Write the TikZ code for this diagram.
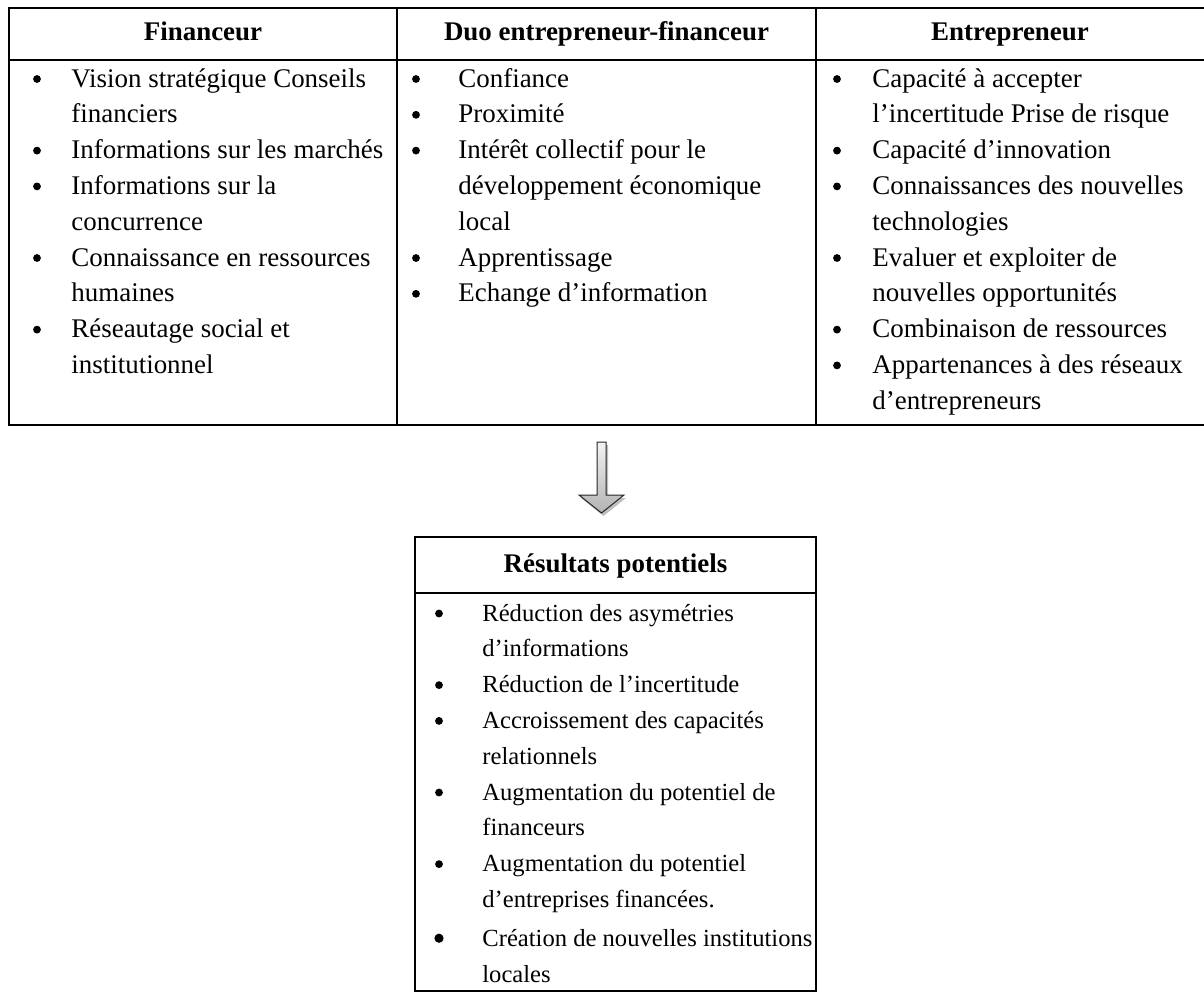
\documentclass[tikz,border=0pt]{standalone}
\usepackage{fontspec}
\setmainfont{Liberation Serif}
\begin{document}
\begin{tikzpicture}[x=0.5pt,y=-0.5pt,
  every node/.style={font=\fontsize{13.47}{17.9}\selectfont, inner sep=0pt},
  txt/.style={anchor=base west},
  bul/.style={circle, fill=black, draw=none, inner sep=0pt, minimum size=3.9pt},
  hd/.style={anchor=base, font=\fontsize{13.47}{17.9}\selectfont\bfseries},
  smalltxt/.style={anchor=base west, font=\fontsize{12.3}{16}\selectfont},
  frame/.style={line width=1.2pt, draw=black},
  blockarrow/.style={line width=0.5pt, draw=black!85, top color=gray!10, bottom color=gray!60},
  arrowshadow/.style={fill=black!25, draw=none}]
\useasboundingbox (0,0) rectangle (1204,993);

% ---------- top table (right border lies just outside the picture) ----------
\draw[frame] (9,8) rectangle (1207,425);
\draw[frame] (9,60) -- (1207,60);
\draw[frame] (397,8) -- (397,425);
\draw[frame] (816,8) -- (816,425);

\node[hd] (h1) at (203,40) {Financeur};
\node[hd] (h2) at (606.5,40) {Duo entrepreneur-financeur};
\node[hd] (h3) at (1010,40) {Entrepreneur};

% column 1
\node[bul] (a1b) at (37,79) {};
\node[txt] (a1) at (71,87) {Vision stratégique Conseils};
\node[txt] (a1c) at (71,122.8) {financiers};
\node[bul] (a2b) at (37,150.6) {};
\node[txt] (a2) at (71,158.6) {Informations sur les marchés};
\node[bul] (a3b) at (37,186.4) {};
\node[txt] (a3) at (71,194.4) {Informations sur la};
\node[txt] (a3c) at (71,230.2) {concurrence};
\node[bul] (a4b) at (37,258) {};
\node[txt] (a4) at (71,266) {Connaissance en ressources};
\node[txt] (a4c) at (71,301.8) {humaines};
\node[bul] (a5b) at (37,329.6) {};
\node[txt] (a5) at (71,337.6) {Réseautage social et};
\node[txt] (a5c) at (71,373.4) {institutionnel};

% column 2
\node[bul] (b1b) at (416,79) {};
\node[txt] (b1) at (458,87) {Confiance};
\node[bul] (b2b) at (416,114.8) {};
\node[txt] (b2) at (458,122.8) {Proximité};
\node[bul] (b3b) at (416,150.6) {};
\node[txt] (b3) at (458,158.6) {Intérêt collectif pour le};
\node[txt] (b3c) at (458,194.4) {développement économique};
\node[txt] (b3d) at (458,230.2) {local};
\node[bul] (b4b) at (416,258) {};
\node[txt] (b4) at (458,266) {Apprentissage};
\node[bul] (b5b) at (416,293.8) {};
\node[txt] (b5) at (458,301.8) {Echange d’information};

% column 3
\node[bul] (c1b) at (837,79) {};
\node[txt] (c1) at (872,87) {Capacité à accepter};
\node[txt] (c1c) at (872,122.8) {l’incertitude Prise de risque};
\node[bul] (c2b) at (837,150.6) {};
\node[txt] (c2) at (872,158.6) {Capacité d’innovation};
\node[bul] (c3b) at (837,186.4) {};
\node[txt] (c3) at (872,194.4) {Connaissances des nouvelles};
\node[txt] (c3c) at (872,230.2) {technologies};
\node[bul] (c4b) at (837,258) {};
\node[txt] (c4) at (872,266) {Evaluer et exploiter de};
\node[txt] (c4c) at (872,301.8) {nouvelles opportunités};
\node[bul] (c5b) at (837,329.6) {};
\node[txt] (c5) at (872,337.6) {Combinaison de ressources};
\node[bul] (c6b) at (837,365.4) {};
\node[txt] (c6) at (872,373.4) {Appartenances à des réseaux};
\node[txt] (c6c) at (872,409.2) {d’entrepreneurs};

% ---------- arrow ----------
\coordinate (tabS) at (601.5,442);
\coordinate (boxN) at (601.5,513);
\fill[arrowshadow] ([shift={(2,3)}]tabS) ++(-4.5,0) -- ++(9,0) -- ++(0,53) -- ++(18,0) -- ++(-22.5,18) -- ++(-22.5,-18) -- ++(18,0) -- cycle;
\path[blockarrow] (tabS) ++(-4.5,0) -- ++(9,0) -- ++(0,53) -- ++(18,0) -- (boxN) -- ++(-22.5,-18) -- ++(18,0) -- cycle;

% ---------- bottom box ----------
\draw[frame] (415,537) rectangle (816,991);
\draw[frame] (415,593) -- (816,593);
\node[hd] (h4) at (615.5,572) {Résultats potentiels};

\node[bul] (d1b) at (439,613.5) {};
\node[smalltxt] (d1) at (482,621) {Réduction des asymétries};
\node[smalltxt] (d1c) at (482,656.8) {d’informations};
\node[bul] (d2b) at (439,685.1) {};
\node[smalltxt] (d2) at (482,692.6) {Réduction de l’incertitude};
\node[bul] (d3b) at (439,720.9) {};
\node[smalltxt] (d3) at (482,728.4) {Accroissement des capacités};
\node[smalltxt] (d3c) at (482,764.2) {relationnels};
\node[bul] (d4b) at (439,792.5) {};
\node[smalltxt] (d4) at (482,800) {Augmentation du potentiel de};
\node[smalltxt] (d4c) at (482,835.8) {financeurs};
\node[bul] (d5b) at (439,864.1) {};
\node[smalltxt] (d5) at (482,871.6) {Augmentation du potentiel};
\node[smalltxt] (d5c) at (482,907.4) {d’entreprises financées.};
\node[bul, minimum size=4.6pt] (d6b) at (439,938.2) {};
\node[smalltxt] (d6) at (482,946.2) {Création de nouvelles institutions};
\node[smalltxt] (d6c) at (482,982) {locales};
\end{tikzpicture}
\end{document}
